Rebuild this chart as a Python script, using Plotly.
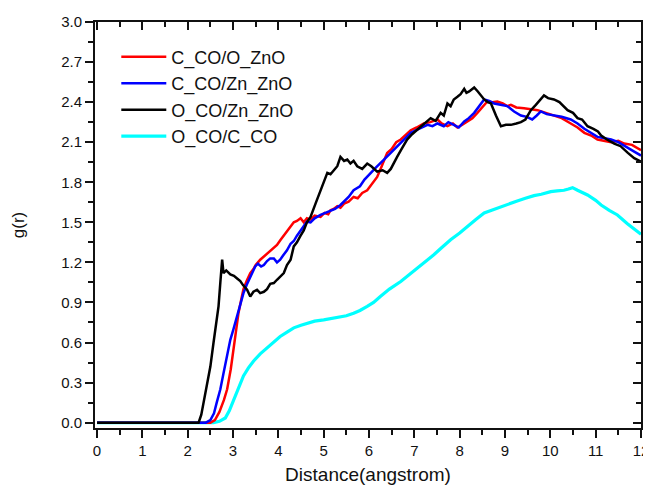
import plotly.graph_objects as go

# ---- data ----
red_name = "C_CO/O_ZnO"
red_x = [0, 2.5, 2.6, 2.7, 2.8, 2.87, 2.95, 3.01, 3.07, 3.12, 3.18, 3.23, 3.3, 3.38, 3.45, 3.5, 3.6, 3.67, 3.75, 3.82,
         3.9, 3.97, 4.05, 4.12, 4.19, 4.27, 4.34, 4.41, 4.49, 4.56, 4.63, 4.71, 4.8, 4.93, 5.02, 5.1, 5.15, 5.22, 5.3, 5.37,
         5.45, 5.55, 5.66, 5.75, 5.85, 5.96, 6.05, 6.18, 6.28, 6.4, 6.5, 6.6, 6.7, 6.8, 6.92, 7.05, 7.21, 7.35, 7.51, 7.6,
         7.73, 7.85, 7.95, 8.05, 8.17, 8.28, 8.39, 8.5, 8.61, 8.72, 8.83, 8.95, 9.05, 9.13, 9.25, 9.42, 9.55, 9.72, 9.9, 10.08,
         10.25, 10.45, 10.6, 10.75, 10.9, 11.04, 11.2, 11.34, 11.5, 11.63, 11.8, 11.93, 12.0]
red_y = [0, 0, 0.02, 0.08, 0.17, 0.25, 0.4, 0.55, 0.68, 0.82, 0.92, 1.0, 1.06, 1.12, 1.15, 1.18, 1.22, 1.24, 1.27, 1.29,
         1.31, 1.33, 1.37, 1.40, 1.43, 1.47, 1.50, 1.51, 1.53, 1.50, 1.53, 1.52, 1.55, 1.54, 1.57, 1.56, 1.59, 1.60, 1.62, 1.61,
         1.64, 1.655, 1.69, 1.68, 1.72, 1.74, 1.78, 1.84, 1.92, 2.02, 2.05, 2.10, 2.12, 2.15, 2.19, 2.21, 2.24, 2.25, 2.27, 2.24,
         2.22, 2.24, 2.21, 2.23, 2.255, 2.28, 2.32, 2.36, 2.405, 2.40, 2.405, 2.39, 2.37, 2.38, 2.36, 2.355, 2.35, 2.34, 2.32, 2.30,
         2.28, 2.24, 2.21, 2.17, 2.15, 2.12, 2.11, 2.10, 2.11, 2.09, 2.08, 2.05, 2.04]

blue_name = "C_CO/Zn_ZnO"
blue_x = [0, 2.4, 2.5, 2.58, 2.64, 2.72, 2.79, 2.87, 2.94, 3.01, 3.09, 3.16, 3.23, 3.3, 3.38, 3.44, 3.49, 3.55, 3.62, 3.68,
          3.75, 3.82, 3.9, 3.97, 4.04, 4.1, 4.19, 4.27, 4.34, 4.41, 4.49, 4.56, 4.63, 4.71, 4.8, 4.93, 5.02, 5.15, 5.25, 5.37,
          5.45, 5.55, 5.66, 5.8, 5.9, 6.03, 6.15, 6.33, 6.45, 6.62, 6.75, 6.92, 7.1, 7.29, 7.4, 7.51, 7.65, 7.75, 7.87, 7.98,
          8.1, 8.2, 8.32, 8.43, 8.54, 8.65, 8.76, 8.9, 9.05, 9.2, 9.35, 9.48, 9.6, 9.7, 9.79, 9.92, 10.08, 10.25, 10.45, 10.6,
          10.75, 10.9, 11.04, 11.2, 11.34, 11.5, 11.71, 11.85, 12.0]
blue_y = [0, 0, 0.02, 0.07, 0.15, 0.25, 0.37, 0.5, 0.62, 0.7, 0.795, 0.88, 0.97, 1.03, 1.095, 1.14, 1.17, 1.19, 1.17, 1.18,
          1.21, 1.23, 1.23, 1.20, 1.22, 1.25, 1.29, 1.34, 1.36, 1.40, 1.44, 1.47, 1.505, 1.50, 1.53, 1.556, 1.57, 1.59, 1.60, 1.63,
          1.66, 1.69, 1.74, 1.77, 1.82, 1.87, 1.91, 1.97, 2.01, 2.07, 2.11, 2.17, 2.20, 2.23, 2.22, 2.24, 2.22, 2.25, 2.23, 2.21,
          2.255, 2.28, 2.32, 2.37, 2.42, 2.41, 2.39, 2.38, 2.37, 2.33, 2.30, 2.29, 2.27, 2.30, 2.33, 2.31, 2.30, 2.29, 2.27, 2.24,
          2.20, 2.17, 2.14, 2.13, 2.12, 2.10, 2.055, 2.03, 2.0]

black_name = "O_CO/Zn_ZnO"
black_x = [0, 2.24, 2.3, 2.36, 2.42, 2.5, 2.57, 2.63, 2.68, 2.72, 2.76, 2.79, 2.85, 2.94, 3.02, 3.09, 3.16, 3.22, 3.31, 3.38,
           3.45, 3.53, 3.6, 3.68, 3.75, 3.82, 3.9, 3.97, 4.04, 4.12, 4.19, 4.27, 4.34, 4.41, 4.49, 4.56, 4.63, 4.71, 4.82, 4.93,
           5.0, 5.08, 5.15, 5.22, 5.3, 5.37, 5.45, 5.52, 5.59, 5.66, 5.74, 5.85, 5.96, 6.05, 6.18, 6.3, 6.4, 6.48, 6.55, 6.62,
           6.72, 6.84, 6.95, 7.05, 7.14, 7.25, 7.36, 7.47, 7.58, 7.65, 7.73, 7.8, 7.87, 7.95, 8.02, 8.1, 8.15, 8.21, 8.27, 8.32,
           8.4, 8.47, 8.54, 8.62, 8.69, 8.8, 8.91, 9.02, 9.13, 9.25, 9.35, 9.45, 9.57, 9.68, 9.78, 9.86, 9.95, 10.08, 10.2, 10.38,
           10.5, 10.6, 10.7, 10.82, 10.95, 11.05, 11.12, 11.25, 11.41, 11.55, 11.71, 11.85, 12.0]
black_y = [0, 0, 0.06, 0.17, 0.3, 0.42, 0.6, 0.75, 0.87, 1.05, 1.22, 1.12, 1.14, 1.11, 1.10, 1.08, 1.06, 1.03, 0.995, 0.945,
           0.98, 0.995, 0.97, 0.98, 1.0, 1.04, 1.045, 1.07, 1.09, 1.12, 1.18, 1.22, 1.32, 1.35, 1.40, 1.44, 1.50, 1.54, 1.64, 1.74,
           1.80, 1.87, 1.86, 1.89, 1.92, 1.99, 1.96, 1.97, 1.94, 1.96, 1.92, 1.90, 1.94, 1.92, 1.88, 1.89, 1.87, 1.90, 1.94, 1.99,
           2.05, 2.12, 2.16, 2.19, 2.22, 2.25, 2.28, 2.26, 2.32, 2.30, 2.39, 2.37, 2.42, 2.44, 2.46, 2.50, 2.47, 2.48, 2.50, 2.51,
           2.48, 2.45, 2.42, 2.40, 2.39, 2.30, 2.22, 2.23, 2.23, 2.24, 2.25, 2.27, 2.34, 2.38, 2.42, 2.45, 2.43, 2.42, 2.40, 2.34,
           2.32, 2.28, 2.27, 2.22, 2.20, 2.18, 2.15, 2.12, 2.09, 2.07, 2.02, 1.98, 1.955]

cyan_name = "O_CO/C_CO"
cyan_x = [0, 2.57, 2.7, 2.83, 2.92, 3.01, 3.12, 3.23, 3.34, 3.45, 3.6, 3.75, 3.9, 4.04, 4.2, 4.34, 4.5, 4.63, 4.8, 5.0,
          5.2, 5.37, 5.5, 5.66, 5.8, 5.96, 6.1, 6.25, 6.45, 6.7, 6.9, 7.07, 7.25, 7.43, 7.6, 7.8, 8.0, 8.17, 8.35, 8.54,
          8.7, 8.91, 9.1, 9.27, 9.45, 9.64, 9.8, 10.01, 10.15, 10.3, 10.4, 10.49, 10.6, 10.82, 11.0, 11.12, 11.3, 11.48, 11.7, 11.96,
          12.0]
cyan_y = [0, 0, 0.01, 0.035, 0.09, 0.17, 0.26, 0.35, 0.41, 0.46, 0.515, 0.56, 0.605, 0.645, 0.68, 0.71, 0.73, 0.745, 0.76, 0.77,
          0.78, 0.79, 0.80, 0.82, 0.84, 0.87, 0.90, 0.945, 1.0, 1.057, 1.11, 1.157, 1.21, 1.257, 1.31, 1.37, 1.42, 1.47, 1.52, 1.57,
          1.59, 1.62, 1.64, 1.66, 1.68, 1.70, 1.71, 1.73, 1.735, 1.74, 1.75, 1.76, 1.74, 1.705, 1.665, 1.63, 1.59, 1.555, 1.49, 1.42,
          1.41]

x_ticks = list(range(0, 13))
y_ticks = [0.0, 0.3, 0.6, 0.9, 1.2, 1.5, 1.8, 2.1, 2.4, 2.7, 3.0]
y_tick_text = ["%.1f" % v for v in y_ticks]

FONT = "Liberation Sans, Arial, sans-serif"
XR = [-0.045, 12.0]
YR = [-0.04, 3.0]
INK = "#111111"

fig = go.Figure()
fig.add_trace(go.Scatter(x=cyan_x, y=cyan_y, name=cyan_name, mode="lines",
                         line=dict(color="#00ffff", width=3.2), legendrank=4))
fig.add_trace(go.Scatter(x=red_x, y=red_y, name=red_name, mode="lines",
                         line=dict(color="#ff0000", width=2.5), legendrank=1))
fig.add_trace(go.Scatter(x=blue_x, y=blue_y, name=blue_name, mode="lines",
                         line=dict(color="#0000ff", width=2.5), legendrank=2))
fig.add_trace(go.Scatter(x=black_x, y=black_y, name=black_name, mode="lines",
                         line=dict(color="#000000", width=2.5), legendrank=3))
# empty trace to activate the mirrored (top/right) axes
fig.add_trace(go.Scatter(x=[], y=[], xaxis="x2", yaxis="y2", showlegend=False, hoverinfo="skip"))

common_minor = dict(tick0=0, ticklen=5, tickwidth=2, tickcolor=INK, showgrid=False)

# the page body adds an 8px offset; size the figure so it fills the 651x489 window
fig.update_layout(
    width=643, height=481,
    margin=dict(l=87, r=10, t=14, b=61, autoexpand=False),
    paper_bgcolor="white", plot_bgcolor="white",
    font=dict(family=FONT, color=INK, size=15),
    showlegend=True,
    legend=dict(x=0.039, y=0.959, xanchor="left", yanchor="top",
                font=dict(family=FONT, size=18, color=INK),
                bgcolor="rgba(0,0,0,0)", itemwidth=45, tracegroupgap=0),
    xaxis=dict(range=XR, tickmode="array", tickvals=x_ticks, ticktext=[str(v) for v in x_ticks],
               ticks="outside", ticklen=8, tickwidth=2, tickcolor=INK, automargin=False,
               showline=True, linewidth=2, linecolor=INK, showgrid=False, zeroline=False,
               minor=dict(dtick=0.5, ticks="outside", **common_minor),
               tickfont=dict(size=15),
               title=dict(text="Distance(angstrom)", font=dict(size=19), standoff=10)),
    yaxis=dict(range=YR, tickmode="array", tickvals=y_ticks, ticktext=y_tick_text,
               ticks="outside", ticklen=8, tickwidth=2, tickcolor=INK, automargin=False,
               showline=True, linewidth=2, linecolor=INK, showgrid=False, zeroline=False,
               minor=dict(dtick=0.15, ticks="outside", **common_minor),
               tickfont=dict(size=15),
               title=dict(text="g(r)", font=dict(size=17), standoff=32)),
    xaxis2=dict(range=XR, overlaying="x", side="top", tickmode="array", tickvals=x_ticks,
                ticks="inside", ticklen=8, tickwidth=2, tickcolor=INK, showticklabels=False, automargin=False,
                showline=True, linewidth=2, linecolor=INK, showgrid=False, zeroline=False,
                minor=dict(dtick=0.5, ticks="inside", **common_minor)),
    yaxis2=dict(range=YR, overlaying="y", side="right", tickmode="array", tickvals=y_ticks,
                ticks="inside", ticklen=8, tickwidth=2, tickcolor=INK, showticklabels=False, automargin=False,
                showline=True, linewidth=2, linecolor=INK, showgrid=False, zeroline=False,
                minor=dict(dtick=0.15, ticks="inside", **common_minor)),
)

fig.write_html("out.html")
